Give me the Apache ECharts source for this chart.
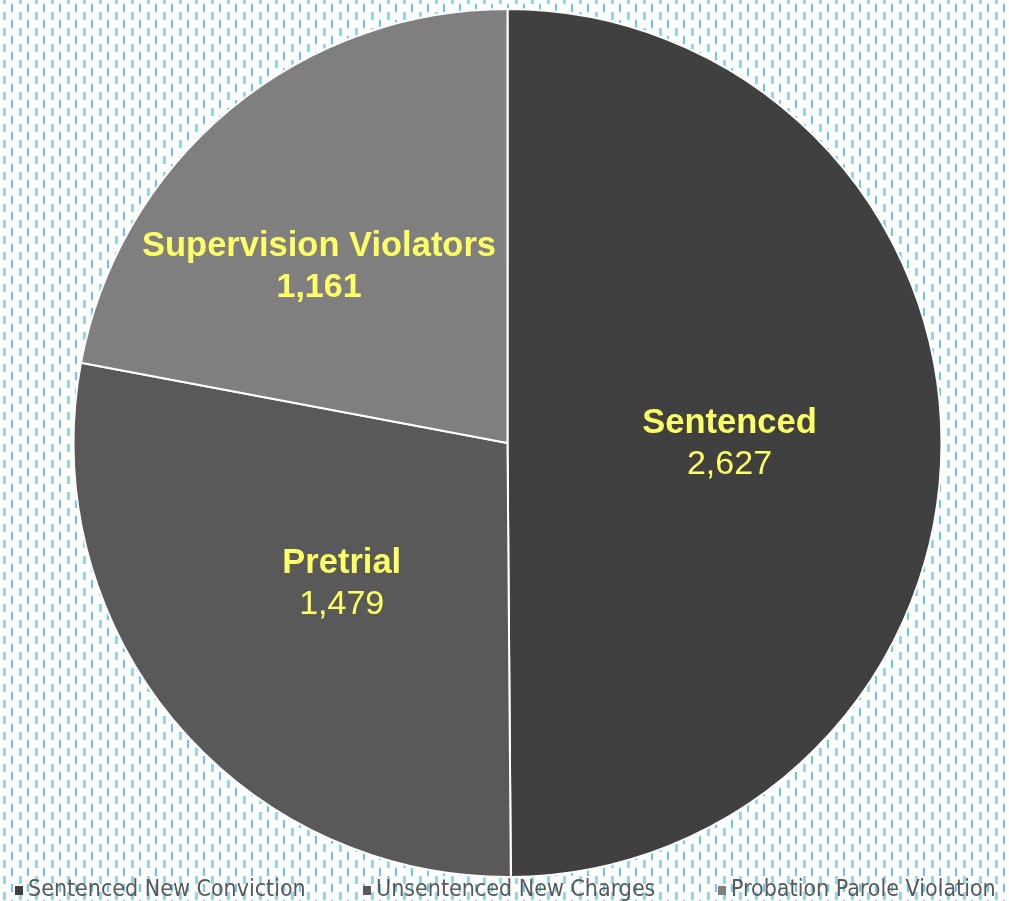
<!DOCTYPE html>
<html>
<head>
<meta charset="utf-8">
<script src="https://cdn.jsdelivr.net/npm/echarts@6/dist/echarts.min.js"></script>
<style>
html,body{margin:0;padding:0;background:#fff;}
#chart{width:1009px;height:901px;}
</style>
</head>
<body>
<div id="chart"></div>
<script>
const categories = ['Sentenced New Conviction', 'Unsentenced New Charges', 'Probation Parole Violation'];
const labelNames = ['Sentenced', 'Pretrial', 'Supervision Violators'];
const values = [2627, 1479, 1161];
const sliceColors = ['#404040', '#595959', '#7f7f7f'];

// background dashed pattern tile
const tile = document.createElement('canvas');
tile.width = 16; tile.height = 16;
const g = tile.getContext('2d');
g.fillStyle = '#ffffff';
g.fillRect(0, 0, 16, 16);
g.fillStyle = '#66cbf4';
g.fillRect(11, 4, 2, 8);
g.fillStyle = '#8ed8f6';
g.fillRect(3, 12, 3, 4);
g.fillRect(3, 0, 3, 4);

const fmt = v => v.toLocaleString('en-US');

const chart = echarts.init(document.getElementById('chart'), null, {renderer: 'canvas'});

const legendLefts = [10, 358, 713];
const legends = categories.map((c, i) => ({
  data: [c],
  left: legendLefts[i],
  top: 874,
  orient: 'horizontal',
  itemWidth: 8,
  itemHeight: 9,
  itemGap: 0,
  icon: 'rect',
  selectedMode: false,
  itemStyle: {borderWidth: 0},
  textStyle: {
    fontFamily: "'DejaVu Sans Condensed', 'DejaVu Sans'",
    fontSize: 23,
    color: '#595959',
    padding: [0, 0, 0, 0]
  }
}));

const boldFlags = [false, false, true];
const FF = "'Liberation Sans', Arial, sans-serif";

chart.setOption({
  animation: false,
  backgroundColor: {image: tile, repeat: 'repeat'},
  legend: legends,
  series: [{
    type: 'pie',
    center: [507.5, 443],
    radius: [0, 434],
    startAngle: 90,
    clockwise: true,
    avoidLabelOverlap: false,
    itemStyle: {borderColor: '#ffffff', borderWidth: 2},
    label: {
      show: true,
      position: 'inside',
      formatter: p => '{n|' + labelNames[p.dataIndex] + '}\n{' + (boldFlags[p.dataIndex] ? 'b' : 'v') + '|' + fmt(p.value) + '}',
      rich: {
        n: {fontFamily: FF, fontWeight: 'bold', fontSize: 34.5, color: '#ffff66', lineHeight: 41, align: 'center'},
        v: {fontFamily: FF, fontWeight: 'normal', fontSize: 34, color: '#ffff66', lineHeight: 41, align: 'center'},
        b: {fontFamily: FF, fontWeight: 'bold', fontSize: 34, color: '#ffff66', lineHeight: 41, align: 'center'}
      }
    },
    labelLayout: function (params) {
      if (params.dataIndex === 2) return {dx: -48, dy: -7};
      if (params.dataIndex === 0) return {dx: 2, dy: 2};
      return {dx: 3, dy: 0};
    },
    emphasis: {disabled: true},
    data: categories.map((c, i) => ({name: c, value: values[i], itemStyle: {color: sliceColors[i]}}))
  }]
});
</script>
</body>
</html>
